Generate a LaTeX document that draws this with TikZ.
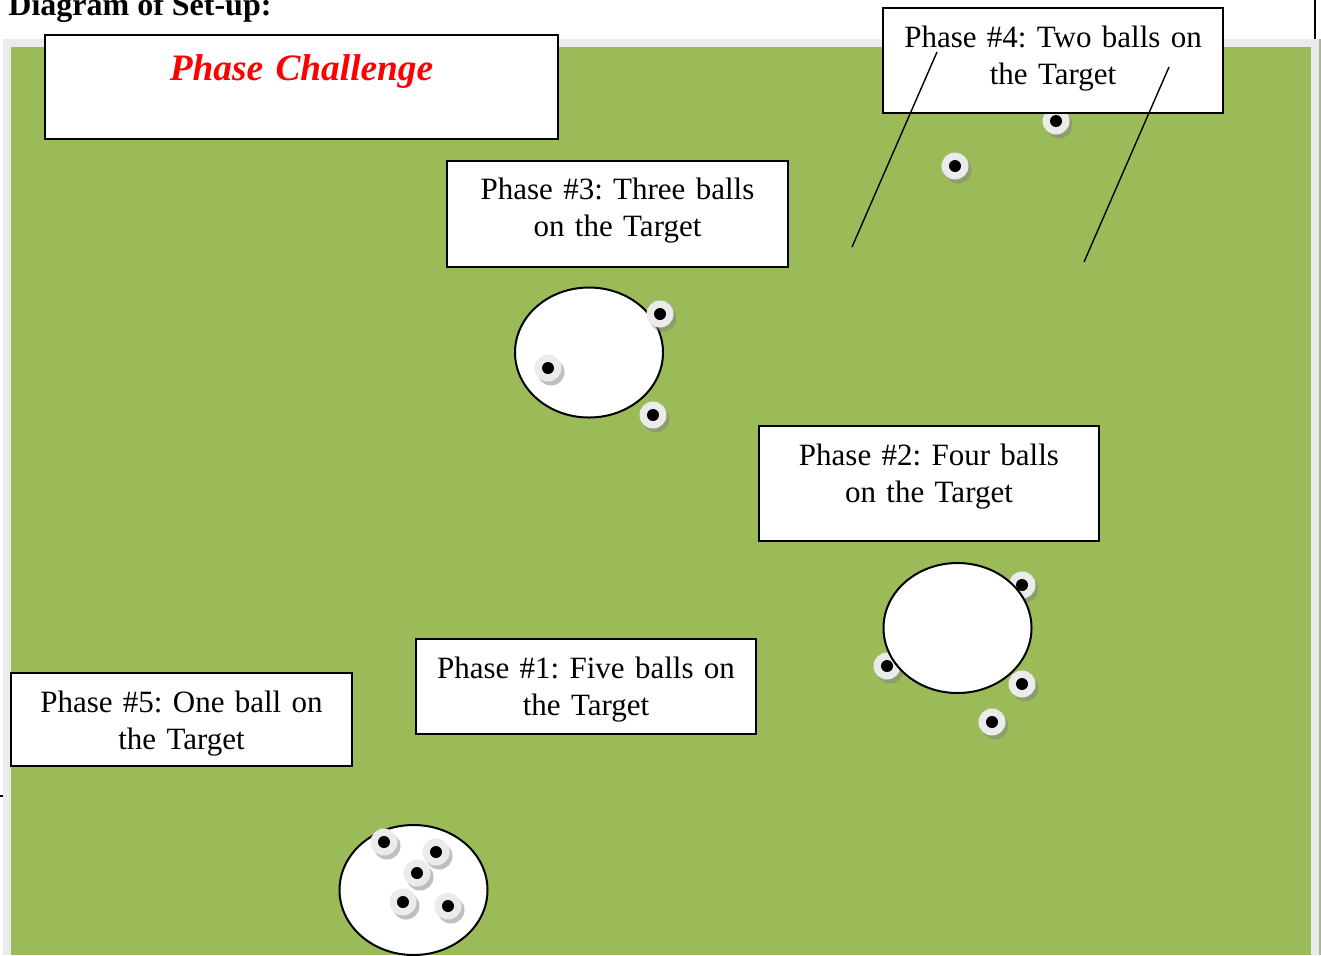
\documentclass[tikz,border=0pt]{standalone}
\usepackage{fontspec}
\setmainfont{Liberation Serif}
\usetikzlibrary{shapes.geometric,shadows}
\definecolor{field}{HTML}{9BBB59}
\definecolor{rim}{HTML}{EBEBEB}
\definecolor{fieldedge}{HTML}{A9B596}
\frenchspacing
\begin{document}
\begin{tikzpicture}[
    x=0.5pt, y=-0.5pt,
    tb/.style={draw, line width=1pt, fill=white, inner sep=0pt, minimum width=170pt},
    lbl/.style={anchor=base, inner sep=0pt, text width=166pt, align=center, font=\fontsize{15.5}{18.5}\selectfont},
    tgt/.style={ellipse, draw, line width=1pt, fill=white, inner sep=0pt, minimum width=74pt, minimum height=65pt},
    ball/.style={circle, fill=rim, inner sep=0pt, minimum size=13.5pt,
        drop shadow={shadow xshift=1.5pt, shadow yshift=-2pt, fill=gray, opacity=0.5},
        path picture={\fill[black] (path picture bounding box.center) circle (3pt);}},
    ln/.style={line width=0.7pt}
]
    \clip (0,0) rectangle (1321,955);

    % field
    \fill[rim] (3,39) rectangle (1319,955);
    \fill[field] (11,47) rectangle (1311,955);
    \fill[fieldedge] (1319,39) rectangle (1321,955);
    \draw[line width=1pt] (1315,0) -- (1315,39);
    \draw[ln] (0,796) -- (3,796);

    \node[anchor=base west, inner sep=0pt, font=\fontsize{16}{18.5}\selectfont\bfseries] (head) at (8,15) {Diagram of Set-up:};

    % targets and balls
    \foreach \p [count=\i] in {(1022,585),(887,666),(1022,684),(992,722)}
        \node[ball] (b2\i) at \p {};
    \node[tgt] (t2) at (957.5,628) {};

    \node[tgt] (t3) at (589,352.5) {};
    \foreach \p [count=\i] in {(660,314),(548,368),(653,415)}
        \node[ball] (b3\i) at \p {};

    \node[tgt] (t1) at (413.5,890) {};
    \foreach \p [count=\i] in {(384,842),(436,852),(417,873),(403,902),(448,906)}
        \node[ball] (b1\i) at \p {};

    \node[ball] (b41) at (1056,121) {};
    \node[ball] (b42) at (955,166) {};

    % text boxes
    \node[tb, minimum width=256.5pt, minimum height=52.25pt] (pc) at (301.5,87) {};
    \node[lbl, text width=250pt, font=\fontsize{18.67}{21}\selectfont\bfseries\itshape, text=red] (pct) at ([yshift=-23.5pt]pc.north) {Phase Challenge};

    \node[tb, minimum width=170.5pt, minimum height=53.25pt] (ph3) at (617.5,213.75) {};
    \node[lbl] (ph3t) at ([yshift=-20pt]ph3.north) {Phase \#3: Three balls\\on the Target};

    \node[tb, minimum height=52.5pt] (ph4) at (1053,60.5) {};
    \node[lbl] (ph4t) at ([yshift=-20pt]ph4.north) {Phase \#4: Two balls on\\the Target};

    \node[tb, minimum height=57.5pt] (ph2) at (929,483.5) {};
    \node[lbl] (ph2t) at ([yshift=-20pt]ph2.north) {Phase \#2: Four balls\\on the Target};

    \node[tb, minimum height=47.5pt] (ph1) at (586,686.5) {};
    \node[lbl] (ph1t) at ([yshift=-20pt]ph1.north) {Phase \#1: Five balls on\\the Target};

    \node[tb, minimum width=170.5pt, minimum height=46.5pt] (ph5) at (181.5,719.5) {};
    \node[lbl] (ph5t) at ([yshift=-20pt]ph5.north) {Phase \#5: One ball on\\the Target};

    % pointers from phase 4
    \coordinate (p4s1) at (937,52);
    \coordinate (p4e1) at (852,247);
    \coordinate (p4s2) at (1169,67);
    \coordinate (p4e2) at (1084,262);
    \draw[ln] (p4s1) -- (p4e1);
    \draw[ln] (p4s2) -- (p4e2);
\end{tikzpicture}
\end{document}
